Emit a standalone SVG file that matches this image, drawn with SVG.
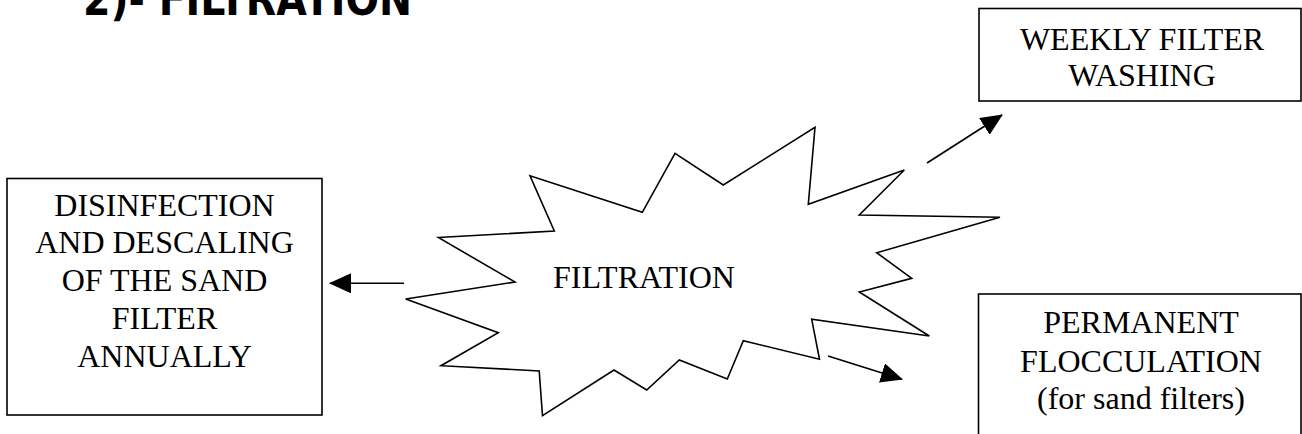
<svg xmlns="http://www.w3.org/2000/svg" width="1302" height="434" viewBox="0 0 1302 434">
<style>
  .box { fill: #fff; stroke: #000; stroke-width: 1.6; }
  .burst { fill: #fff; stroke: #000; stroke-width: 1.6; stroke-linejoin: miter; }
  .lbl { font-family: "Liberation Serif", serif; font-size: 32px; fill: #000; text-anchor: middle; }
  .title { font-family: "DejaVu Sans", sans-serif; font-weight: bold; font-size: 46px; fill: #000; }
  .conn { stroke: #000; stroke-width: 1.6; fill: none; }
</style>
<defs>
  <marker id="ah" markerUnits="userSpaceOnUse" markerWidth="22" markerHeight="20" refX="21" refY="10" orient="auto" viewBox="0 0 22 20">
    <path d="M0,0 L22,10 L0,20 z" fill="#000"/>
  </marker>
</defs>
<rect width="1302" height="434" fill="#fff"/>
<g id="title">
  <text class="title" x="83" y="15" textLength="329" lengthAdjust="spacingAndGlyphs">2)- FILTRATION</text>
</g>
<g id="node-filtration">
  <polygon class="burst" points="438.3,237.5 554.3,231 530,175.7 642.3,212.3 675,153.3 723.3,185 815,127.3 808.3,204.3 904.3,170 859.3,215 1000,217.3 876.7,252.7 911.7,278.3 859.3,292 929.3,336 811.7,319.3 819.5,359.3 743.3,340.7 727.3,379 679.3,360 646.7,390 614,370 542.5,415.7 539.2,371 441,365.7 498.3,332.7 405.7,299 515,282"/>
  <text class="lbl" x="644" y="287.5">FILTRATION</text>
</g>
<g id="node-disinfection">
  <rect class="box" x="7" y="178.5" width="315" height="236.5"/>
  <text class="lbl" x="164.5" y="215.5">DISINFECTION</text>
  <text class="lbl" x="164.5" y="253.3">AND DESCALING</text>
  <text class="lbl" x="164.5" y="291.2">OF THE SAND</text>
  <text class="lbl" x="164.5" y="329">FILTER</text>
  <text class="lbl" x="164.5" y="367">ANNUALLY</text>
</g>
<g id="node-weekly">
  <rect class="box" x="979" y="8.5" width="322" height="92.5"/>
  <text class="lbl" x="1142" y="49.5">WEEKLY FILTER</text>
  <text class="lbl" x="1142" y="86">WASHING</text>
</g>
<g id="node-permanent">
  <rect class="box" x="978.5" y="294" width="322.5" height="150"/>
  <text class="lbl" x="1141" y="333">PERMANENT</text>
  <text class="lbl" x="1141" y="371.5">FLOCCULATION</text>
  <text class="lbl" x="1141" y="409">(for sand filters)</text>
</g>
<g id="connectors">
  <line class="conn" x1="404" y1="283.3" x2="330" y2="283.3" marker-end="url(#ah)"/>
  <line class="conn" x1="927" y1="163" x2="1002" y2="115" marker-end="url(#ah)"/>
  <line class="conn" x1="828" y1="356" x2="902" y2="379.3" marker-end="url(#ah)"/>
</g>
</svg>
